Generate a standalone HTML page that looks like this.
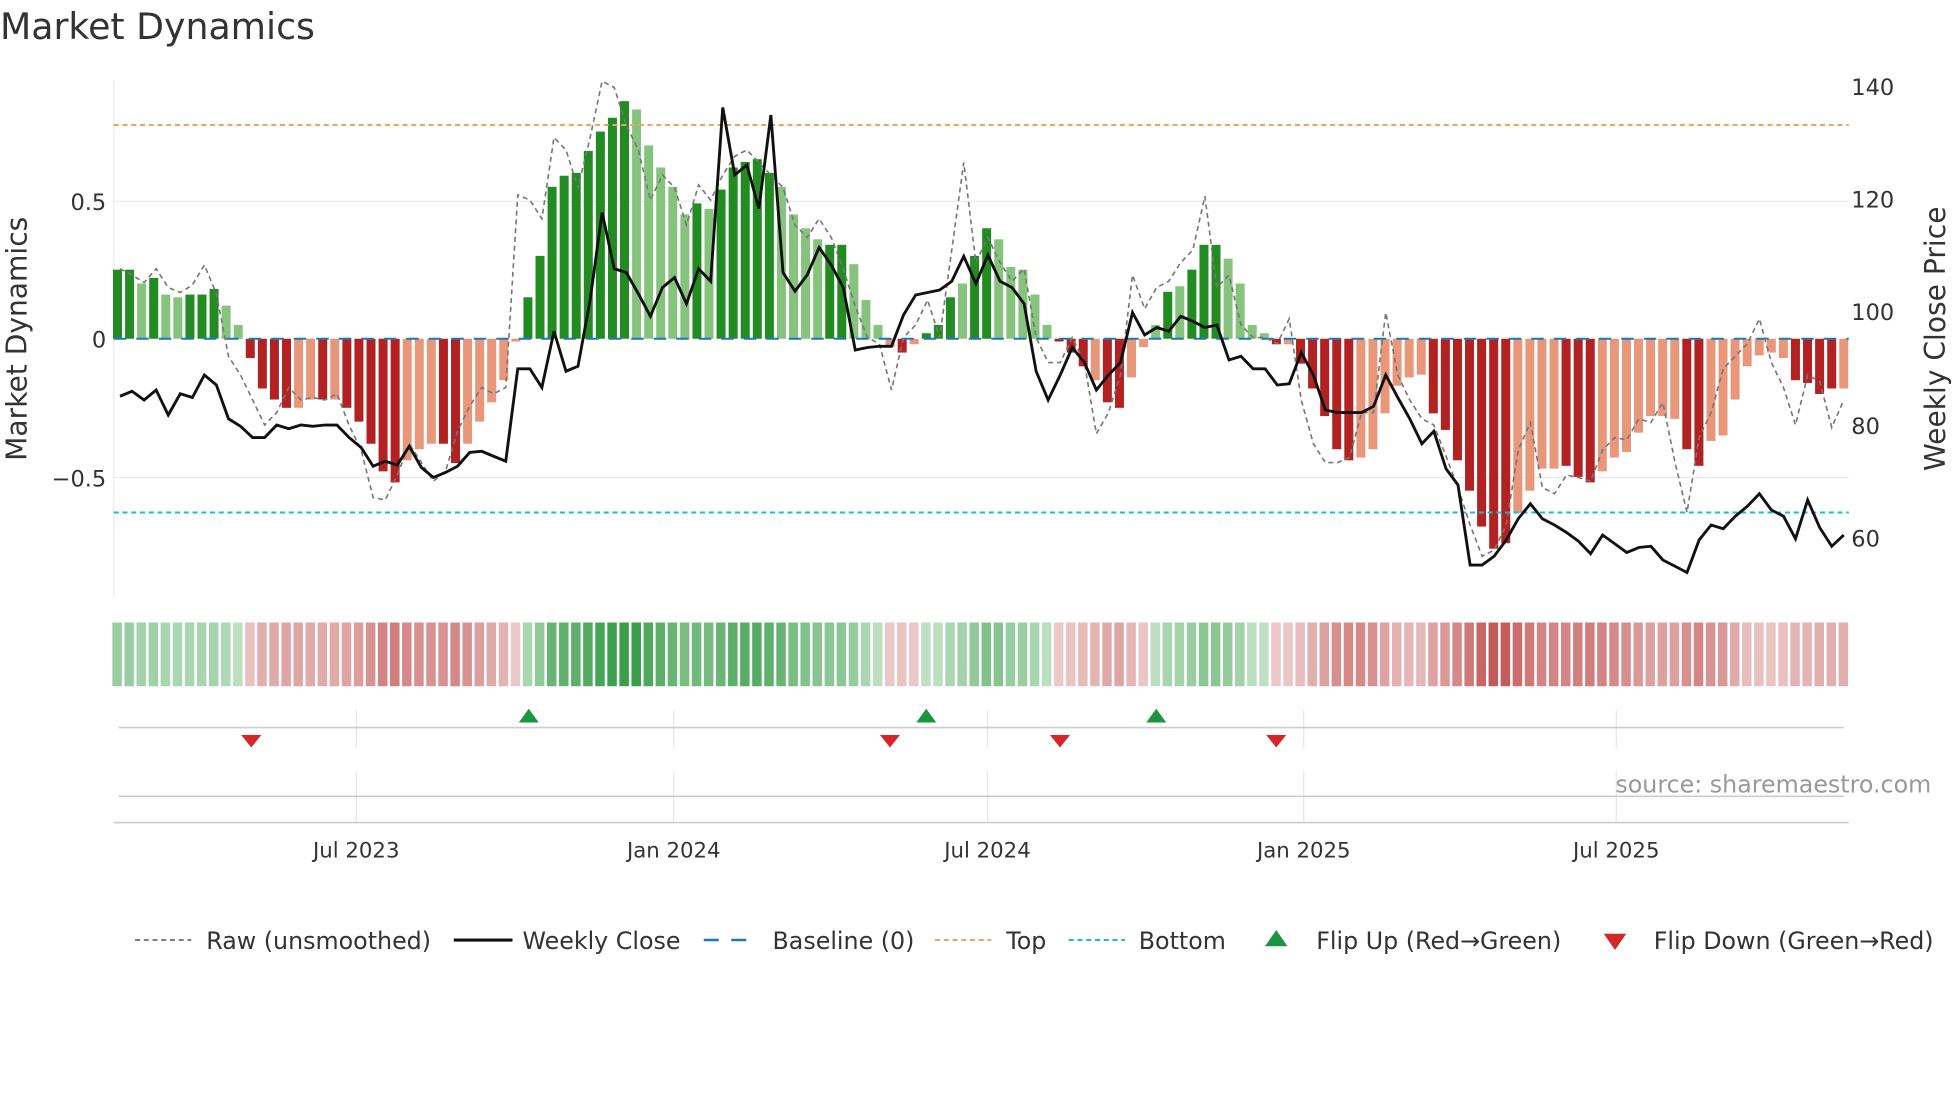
<!DOCTYPE html>
<html><head><meta charset="utf-8"><style>
html,body{margin:0;padding:0;background:#fff;}
svg{display:block;font-family:"DejaVu Sans","Liberation Sans",sans-serif;}
</style></head><body>
<svg id="s" width="1960" height="1102" viewBox="0 0 1568 881.6" xmlns="http://www.w3.org/2000/svg">
<rect width="1568" height="882" fill="#fff"/>
<text x="0" y="31" font-size="29" fill="#333">Market Dynamics</text>
<g stroke="#e8ecef" stroke-width="1">
<line x1="91" y1="161" x2="1479" y2="161"/>
<line x1="91" y1="382" x2="1479" y2="382"/>
<line x1="91" y1="65" x2="91" y2="478"/>
</g>
<g id="bars"></g>
<line x1="91" y1="271" x2="1479" y2="271" stroke="#1f77b4" stroke-width="1.6" stroke-dasharray="10,8"/>
<line x1="91" y1="100" x2="1479" y2="100" stroke="#f0a35a" stroke-width="1.6" stroke-dasharray="4,3"/>
<line x1="91" y1="410" x2="1479" y2="410" stroke="#17becf" stroke-width="1.6" stroke-dasharray="4,3"/>
<polyline id="raw" fill="none" stroke="#777" stroke-width="1.3" stroke-dasharray="4,3"/>
<polyline id="close" fill="none" stroke="#111" stroke-width="2.3"/>
<g font-size="18" fill="#333" text-anchor="end">
<text x="85" y="168">0.5</text><text x="85" y="278">0</text><text x="85" y="389">−0.5</text>
</g>
<g font-size="18" fill="#333">
<text x="1481" y="76">140</text><text x="1481" y="166">120</text><text x="1481" y="256">100</text><text x="1481" y="347">80</text><text x="1481" y="437">60</text>
</g>
<text transform="translate(21,271) rotate(-90)" font-size="22.5" fill="#333" text-anchor="middle">Market Dynamics</text>
<text transform="translate(1556,271) rotate(-90)" font-size="22.5" fill="#333" text-anchor="middle">Weekly Close Price</text>
<g id="heat"></g>
<g stroke="#e6e6e6" stroke-width="1">
<line x1="285" y1="568" x2="285" y2="598"/><line x1="539" y1="568" x2="539" y2="598"/><line x1="790" y1="568" x2="790" y2="598"/><line x1="1043" y1="568" x2="1043" y2="598"/><line x1="1293" y1="568" x2="1293" y2="598"/>
<line x1="285" y1="617" x2="285" y2="658"/><line x1="539" y1="617" x2="539" y2="658"/><line x1="790" y1="617" x2="790" y2="658"/><line x1="1043" y1="617" x2="1043" y2="658"/><line x1="1293" y1="617" x2="1293" y2="658"/>
</g>
<line x1="95" y1="582" x2="1475" y2="582" stroke="#ccc" stroke-width="1.3"/>
<line x1="95" y1="637" x2="1475" y2="637" stroke="#ccc" stroke-width="1.3"/>
<line x1="91" y1="658" x2="1479" y2="658" stroke="#ccc" stroke-width="1.3"/>
<g fill="#1a9641">
<polygon points="423,567 415,578 431,578"/><polygon points="741,567 733,578 749,578"/><polygon points="925,567 917,578 933,578"/>
</g>
<g fill="#d62728">
<polygon points="201,598 193,588 209,588"/><polygon points="712,598 704,588 720,588"/><polygon points="848,598 840,588 856,588"/><polygon points="1021,598 1013,588 1029,588"/>
</g>
<text x="1545" y="634" font-size="19" fill="#999" text-anchor="end">source: sharemaestro.com</text>
<g font-size="17" fill="#333" text-anchor="middle">
<text x="285" y="686">Jul 2023</text><text x="539" y="686">Jan 2024</text><text x="790" y="686">Jul 2024</text><text x="1043" y="686">Jan 2025</text><text x="1293" y="686">Jul 2025</text>
</g>
<g font-size="19" fill="#333">
<line x1="108" y1="752" x2="153" y2="752" stroke="#777" stroke-width="1.5" stroke-dasharray="4,3"/><text x="165" y="759">Raw (unsmoothed)</text>
<line x1="363" y1="752" x2="410" y2="752" stroke="#111" stroke-width="2.5"/><text x="418" y="759">Weekly Close</text>
<line x1="563" y1="752" x2="607" y2="752" stroke="#1f77b4" stroke-width="2" stroke-dasharray="12,10"/><text x="618" y="759">Baseline (0)</text>
<line x1="748" y1="752" x2="793" y2="752" stroke="#f0a35a" stroke-width="1.6" stroke-dasharray="4,3"/><text x="805" y="759">Top</text>
<line x1="855" y1="752" x2="900" y2="752" stroke="#17becf" stroke-width="1.6" stroke-dasharray="4,3"/><text x="911" y="759">Bottom</text>
<polygon points="1021,744 1012,757 1030,757" fill="#1a9641"/><text x="1053" y="759">Flip Up (Red→Green)</text>
<polygon points="1292,760 1283,747 1301,747" fill="#d62728"/><text x="1323" y="759">Flip Down (Green→Red)</text>
</g>
</svg>
<script>
var NS="http://www.w3.org/2000/svg";
var v=[.25,.25,.2,.22,.16,.15,.16,.16,.18,.12,.05,-.07,-.18,-.22,-.25,-.25,-.22,-.22,-.22,-.25,-.3,-.38,-.48,-.52,-.44,-.4,-.38,-.38,-.45,-.38,-.3,-.23,-.15,-.01,.15,.3,.55,.59,.6,.68,.75,.8,.86,.83,.7,.62,.55,.45,.49,.47,.54,.62,.64,.65,.6,.55,.45,.4,.36,.34,.34,.27,.14,.05,-.03,-.05,-.02,.02,.05,.15,.2,.3,.4,.36,.26,.25,.16,.05,-.01,-.05,-.1,-.15,-.23,-.25,-.14,-.03,.05,.17,.19,.25,.34,.34,.29,.2,.05,.02,-.02,-.02,-.09,-.18,-.28,-.4,-.44,-.43,-.4,-.27,-.17,-.14,-.13,-.27,-.33,-.44,-.55,-.68,-.76,-.74,-.63,-.55,-.47,-.47,-.46,-.5,-.52,-.48,-.43,-.41,-.34,-.28,-.28,-.29,-.4,-.46,-.37,-.35,-.22,-.1,-.06,-.05,-.07,-.15,-.16,-.2,-.18,-.18];
var dark=[1,1,0,1,0,0,1,1,1,0,0,1,1,1,1,0,0,1,0,1,1,1,1,1,0,0,0,1,1,0,0,0,0,0,1,1,1,1,1,1,1,1,1,0,0,0,0,0,1,0,1,1,1,1,1,0,0,0,0,1,1,0,0,0,0,1,0,1,1,1,0,1,1,0,0,0,0,0,1,1,1,0,1,1,0,0,0,1,0,1,1,1,0,0,0,0,1,0,1,1,1,1,1,0,0,0,0,0,0,1,1,1,1,1,1,1,0,0,0,0,1,1,1,0,0,0,0,0,0,0,1,1,0,0,0,0,0,0,0,1,1,1,1,0];
var bars=document.getElementById('bars'),heat=document.getElementById('heat');
var n=v.length,step=(1475-94)/(n-1);
for(var i=0;i<n;i++){var x=94+step*i,y0=271,y1=271-v[i]*221;
var r=document.createElementNS(NS,'rect');r.setAttribute('x',x-3.6);r.setAttribute('width',7.2);
r.setAttribute('y',Math.min(y0,y1));r.setAttribute('height',Math.max(1,Math.abs(y1-y0)));
r.setAttribute('fill',v[i]>=0?(dark[i]?'#228b22':'#86c47e'):(dark[i]?'#b22222':'#e8977a'));bars.appendChild(r);
var h=document.createElementNS(NS,'rect');h.setAttribute('x',x-4.1);h.setAttribute('width',7.6);h.setAttribute('y',498);h.setAttribute('height',51);
var a=Math.min(1,0.3+Math.abs(v[i])*0.85);h.setAttribute('fill',v[i]>=0?'#3a9e4a':'#c05050');h.setAttribute('fill-opacity',a);heat.appendChild(h);}
var cl=[317,313,320,312,332,315,318,300,308,335,341,350,350,340,343,340,341,340,340,350,358,373,369,372,357,374,382,378,373,362,361,365,369,295,295,310,265,297,293,240,170,215,218,235,253,230,222,243,215,225,86,140,132,167,92,218,233,220,198,212,230,280,278,277,277,252,236,234,232,225,205,227,204,225,230,243,297,320,300,278,290,312,300,290,250,268,262,265,253,257,262,260,288,285,295,295,308,307,282,300,328,330,330,330,325,300,318,335,355,345,375,388,452,452,445,432,415,403,415,420,426,433,443,428,435,442,438,437,448,453,458,432,420,423,413,405,395,408,413,431,400,422,437,428];
var rw=[215,220,226,215,230,234,228,212,235,285,300,320,340,330,310,320,318,320,315,340,360,398,400,380,355,370,385,377,345,325,310,315,310,156,160,175,110,120,150,110,65,70,100,120,160,140,150,180,148,160,140,125,120,130,140,150,180,190,175,190,215,245,270,275,312,270,260,240,270,200,130,210,190,210,225,215,270,290,290,270,290,347,330,300,220,247,230,225,210,200,157,230,220,260,270,270,275,255,320,355,370,370,366,330,330,250,300,320,335,340,365,390,420,445,440,420,360,338,390,395,380,382,385,360,350,352,335,338,322,370,410,350,330,295,285,275,255,290,310,340,300,305,342,320];
function pts(a){var s=[];for(var i=0;i<a.length;i++)s.push((96+(1475-96)*i/(a.length-1)).toFixed(1)+','+a[i]);return s.join(' ');}
document.getElementById('close').setAttribute('points',pts(cl));
document.getElementById('raw').setAttribute('points',pts(rw));
</script>
</body></html>
